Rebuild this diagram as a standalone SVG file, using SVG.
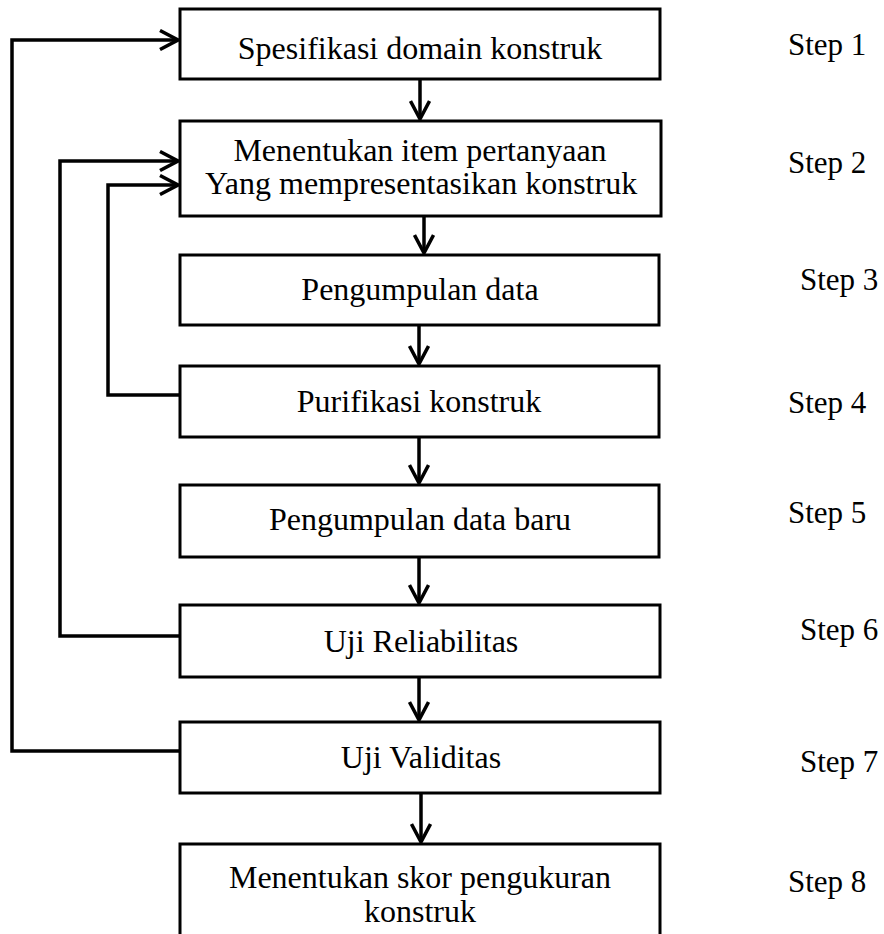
<svg xmlns="http://www.w3.org/2000/svg" width="884" height="934" viewBox="0 0 884 934">
<defs>
<style>
.box{fill:#fff;stroke:#000;stroke-width:3}
.t{font-family:"Liberation Serif","Times New Roman",serif;font-size:32px;fill:#000;text-anchor:middle}
.s{font-family:"Liberation Serif","Times New Roman",serif;font-size:31px;fill:#000}
.c{fill:none;stroke:#000;stroke-width:3.5}
</style>
<marker id="ah" markerUnits="userSpaceOnUse" viewBox="0 0 22 22" refX="20" refY="11" markerWidth="22" markerHeight="22" orient="auto">
<path d="M2,1.5 L20,11 L2,20.5" fill="none" stroke="#000" stroke-width="3.5"/>
</marker>
</defs>
<rect width="884" height="934" fill="#fff"/>
<g id="connectors">
<path class="c" d="M420,79 V119" marker-end="url(#ah)"/>
<path class="c" d="M424,216 V253" marker-end="url(#ah)"/>
<path class="c" d="M419,325 V364" marker-end="url(#ah)"/>
<path class="c" d="M419,437 V483" marker-end="url(#ah)"/>
<path class="c" d="M419,557 V603" marker-end="url(#ah)"/>
<path class="c" d="M419,677 V720" marker-end="url(#ah)"/>
<path class="c" d="M421,793 V842" marker-end="url(#ah)"/>
<path class="c" d="M180,751 H12 V40 H178" marker-end="url(#ah)"/>
<path class="c" d="M180,636 H60 V161 H178" marker-end="url(#ah)"/>
<path class="c" d="M180,395 H108 V185 H178" marker-end="url(#ah)"/>
</g>
<g id="n1"><rect class="box" x="180" y="9" width="480" height="70"/><text class="t" x="420" y="59">Spesifikasi domain konstruk</text></g>
<g id="n2"><rect class="box" x="180" y="121" width="481" height="95"/><text class="t" x="420" y="161">Menentukan item pertanyaan</text><text class="t" x="421" y="194">Yang mempresentasikan konstruk</text></g>
<g id="n3"><rect class="box" x="180" y="255" width="479" height="70"/><text class="t" x="420" y="300">Pengumpulan data</text></g>
<g id="n4"><rect class="box" x="180" y="366" width="479" height="71"/><text class="t" x="419" y="412">Purifikasi konstruk</text></g>
<g id="n5"><rect class="box" x="180" y="485" width="479" height="72"/><text class="t" x="420" y="530">Pengumpulan data baru</text></g>
<g id="n6"><rect class="box" x="180" y="605" width="480" height="72"/><text class="t" x="421" y="652">Uji Reliabilitas</text></g>
<g id="n7"><rect class="box" x="180" y="722" width="480" height="71"/><text class="t" x="421" y="768">Uji Validitas</text></g>
<g id="n8"><rect class="box" x="180" y="844" width="480" height="110"/><text class="t" x="420" y="888">Menentukan skor pengukuran</text><text class="t" x="420" y="922">konstruk</text></g>
<g id="steps">
<text class="s" x="788" y="55">Step 1</text>
<text class="s" x="788" y="173">Step 2</text>
<text class="s" x="800" y="290">Step 3</text>
<text class="s" x="788" y="413">Step 4</text>
<text class="s" x="788" y="523">Step 5</text>
<text class="s" x="800" y="640">Step 6</text>
<text class="s" x="800" y="772">Step 7</text>
<text class="s" x="788" y="892">Step 8</text>
</g>
</svg>
